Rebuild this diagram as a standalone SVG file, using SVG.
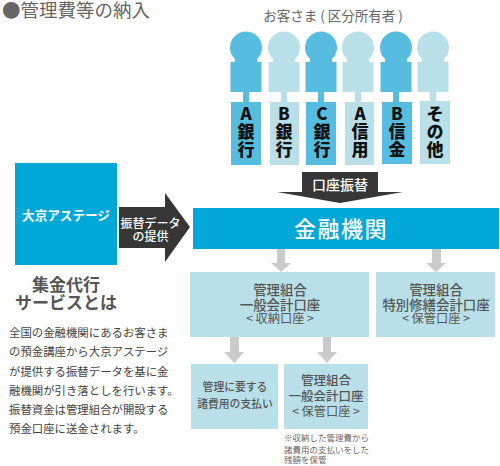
<svg xmlns="http://www.w3.org/2000/svg" width="500" height="466" viewBox="0 0 500 466">
<defs><style>
text{font-family:"Noto Sans CJK JP","Noto Sans",sans-serif;text-anchor:middle}
.d{fill:#56bde0}.l{fill:#b9e0e9}.b{fill:#00a8d8}
.bank{font-size:17px;font-weight:900;fill:#111;writing-mode:vertical-rl;text-orientation:upright;text-anchor:start;letter-spacing:1px}
.acc{font-size:13.4px;font-weight:500;fill:#555}
.acc4{font-size:12.5px}
.small{font-size:10.8px}
.sub{font-size:12.2px;fill:#555}
.para{font-size:11.4px;fill:#444;text-anchor:start}
.note{font-size:8.5px;fill:#666;text-anchor:start}
.g{fill:#cbcbcb}
.w{fill:#fff;font-weight:500}
</style>
<g id="p"><circle cx="0" cy="47.500" r="16"/><path d="M-11 59H11V62H15.500V92H-15.500V62H-11Z"/><rect x="-3" y="92" width="6" height="10"/></g>
</defs>
<rect width="500" height="466" fill="#fff"/>
<text id="title" x="76" y="17" style="font-size:18.5px;fill:#666">●管理費等の納入</text>
<text id="customers" x="333" y="21" style="font-size:13.5px;fill:#666">お客さま ( 区分所有者 )</text>

<g id="bank-a"><use href="#p" x="246" class="d"/><rect class="d" x="231" y="102" width="30" height="63"/><text class="bank" x="246" y="105">A銀行</text></g>
<g id="bank-b"><use href="#p" x="284" class="l"/><rect class="l" x="270" y="102" width="29" height="63"/><text class="bank" x="284" y="105">B銀行</text></g>
<g id="bank-c"><use href="#p" x="321" class="d"/><rect class="d" x="306" y="102" width="30" height="63"/><text class="bank" x="322" y="105">C銀行</text></g>
<g id="shin-a"><use href="#p" x="358" class="l"/><rect class="l" x="345" y="102" width="29" height="63"/><text class="bank" x="360" y="105">A信用</text></g>
<g id="shin-b"><use href="#p" x="396" class="d"/><rect class="d" x="382" y="102" width="30" height="62"/><text class="bank" x="397" y="105">B信金</text></g>
<g id="other"><use href="#p" x="433" class="l"/><rect class="l" x="420" y="101" width="30" height="63"/><text class="bank" x="435" y="105">その他</text></g>

<g id="connectors">
<path id="transfer" d="M302 172H378V192H403L340 203L277 192H302Z" fill="#363636"/>
<path id="data" d="M119 207H165V193L190 227L165 262V248H119Z" fill="#363636"/>
<path class="g" d="M277 249H285V263H291L281 272L271 263H277Z"/>
<path class="g" d="M432 249H441V263H446L436 272L426 263H432Z"/>
<path class="g" d="M230 337H239V352H244L234.500 363L224 352H230Z"/>
<path class="g" d="M323 337H331V352H337L327 363L317 352H323Z"/>
</g>
<g id="transfer-label"><text class="w" x="340" y="190" style="font-size:14px">口座振替</text></g>
<g id="data-label"><text class="w" x="150.500" y="228" style="font-size:12px">振替データ</text><text class="w" x="150.500" y="241" style="font-size:12px">の提供</text></g>

<g id="daikyo"><rect class="b" x="15" y="163" width="102" height="102"/><text x="66" y="220" style="font-size:12.6px;font-weight:700;fill:#fff">大京アステージ</text></g>
<g id="kinyu"><rect class="b" x="193" y="208" width="306" height="41"/><text x="341" y="237" style="font-size:22px;font-weight:500;fill:#fff;letter-spacing:1.500px">金融機関</text></g>
<g id="acc1"><rect class="l" x="190" y="272" width="179" height="65"/><text class="acc" x="280" y="295">管理組合</text><text class="acc" x="280" y="310">一般会計口座</text><text class="sub" x="280" y="323">&lt; 収納口座 &gt;</text></g>
<g id="acc2"><rect class="l" x="376" y="272" width="119" height="65"/><text class="acc" x="436" y="295">管理組合</text><text class="acc" x="436" y="310">特別修繕会計口座</text><text class="sub" x="436" y="323">&lt; 保管口座 &gt;</text></g>
<g id="acc3"><rect class="l" x="191" y="364" width="87" height="65"/><text class="acc small" x="235" y="391">管理に要する</text><text class="acc small" x="235" y="408">諸費用の支払い</text></g>
<g id="acc4"><rect class="l" x="284" y="364" width="84" height="65"/><text class="acc acc4" x="326" y="385">管理組合</text><text class="acc acc4" x="326" y="401">一般会計口座</text><text class="sub" x="326" y="416">&lt; 保管口座 &gt;</text></g>
<g id="note"><text class="note" x="284" y="441">※収納した管理費から</text><text class="note" x="284" y="453">諸費用の支払いをした</text><text class="note" x="284" y="463">残額を保管</text></g>

<g id="about"><text x="66" y="291" style="font-size:17px;font-weight:700;fill:#555">集金代行</text><text x="66" y="309" style="font-size:17px;font-weight:700;fill:#555">サービスとは</text>
<text class="para" x="9" y="337">全国の金融機関にあるお客さま</text><text class="para" x="9" y="356">の預金講座から大京アステージ</text><text class="para" x="9" y="376">が提供する振替データを基に金</text><text class="para" x="9" y="395">融機関が引き落としを行います。</text><text class="para" x="9" y="414">振替資金は管理組合が開設する</text><text class="para" x="9" y="433">預金口座に送金されます。</text></g>
</svg>
